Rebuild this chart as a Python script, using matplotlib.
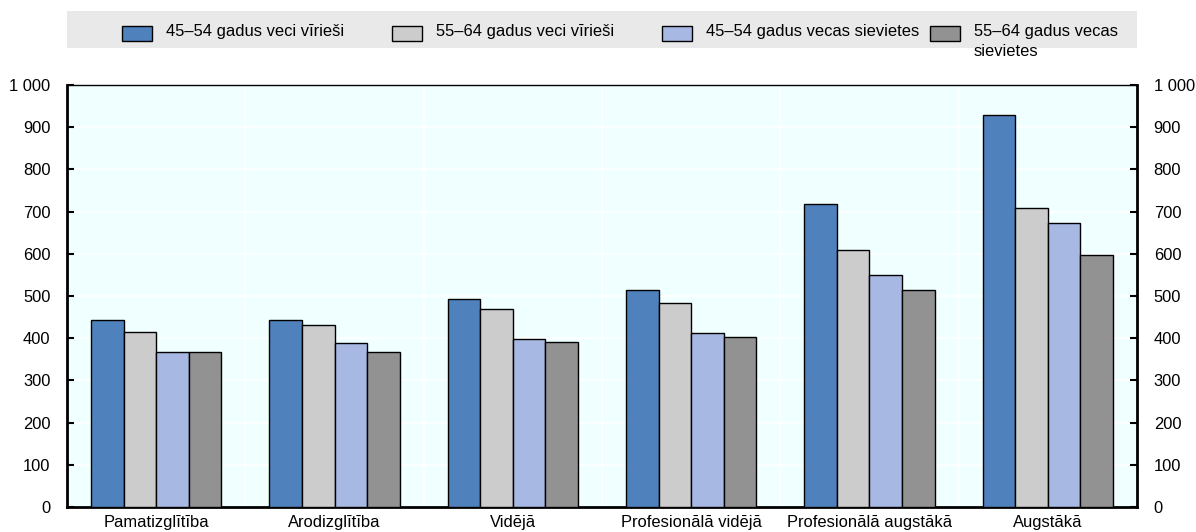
import matplotlib
matplotlib.use("Agg")
import matplotlib.pyplot as plt
from matplotlib.patches import Rectangle
from matplotlib.ticker import FuncFormatter, MultipleLocator, FixedLocator
import numpy as np

plt.rcParams['font.family'] = ['Liberation Sans', 'DejaVu Sans']

categories = ["Pamatizglītība", "Arodizglītība", "Vidējā", "Profesionālā vidējā",
              "Profesionālā augstākā", "Augstākā"]
series_names = ["45–54 gadus veci vīrieši", "55–64 gadus veci vīrieši",
                "45–54 gadus vecas sievietes", "55–64 gadus vecas\nsievietes"]
men_45_54 = [443, 444, 492, 514, 717, 930]
men_55_64 = [414, 432, 469, 484, 609, 708]
women_45_54 = [368, 389, 399, 413, 549, 674]
women_55_64 = [368, 368, 390, 403, 514, 598]
series_values = [men_45_54, men_55_64, women_45_54, women_55_64]
colors = ["#4F81BD", "#CCCCCC", "#A7B8E3", "#929292"]

FS = 11.9
W, H = 1196, 532
fig = plt.figure(figsize=(W / 100, H / 100), dpi=100)
ax = fig.add_axes([67 / W, (H - 507) / H, 1070 / W, 422 / H])
ax.set_facecolor("#F0FFFF")

x = np.arange(len(categories))
bw = 0.1825
for j, (vals, c) in enumerate(zip(series_values, colors)):
    ax.bar(x + (j - 1.5) * bw, vals, width=bw, color=c, edgecolor="black",
           linewidth=1.0, zorder=3, label=series_names[j])

ax.set_xlim(-0.5, len(categories) - 0.5)
ax.set_ylim(0, 1000)
ax.yaxis.set_major_locator(MultipleLocator(100))
fmt = FuncFormatter(lambda v, p: f"{int(v):,}".replace(",", " "))
ax.yaxis.set_major_formatter(fmt)
ax.set_xticks(x)
ax.set_xticklabels(categories, fontsize=FS)
ax.xaxis.set_minor_locator(FixedLocator(np.arange(0.5, len(categories) - 0.5, 1)))
ax.tick_params(axis="x", which="both", length=0, pad=6)
ax.tick_params(axis="y", which="major", direction="in", length=5, width=1.5,
               left=True, right=True, labelleft=True, labelright=True,
               labelsize=FS, pad=12)
ax.grid(True, axis="y", which="major", color="white", linewidth=1.2, zorder=0)
ax.grid(True, axis="x", which="minor", color="white", linewidth=1.2, zorder=0)
ax.set_axisbelow(True)

for s in ["left", "right", "bottom"]:
    ax.spines[s].set_linewidth(2)
    ax.spines[s].set_color("black")
ax.spines["top"].set_linewidth(1)
ax.spines["top"].set_color("black")

# Legend drawn manually in figure pixel coordinates
def px(xp, yp):
    return xp / W, 1 - yp / H

bx0, by0 = px(67, 48)
fig.patches.append(Rectangle((bx0, by0), 1070 / W, 37 / H, transform=fig.transFigure,
                             facecolor="#E9E9E9", edgecolor="none", zorder=0))
handle_x = [122, 392, 662, 930]
for hx, name, c in zip(handle_x, series_names, colors):
    rx, ry = px(hx, 41)
    fig.patches.append(Rectangle((rx, ry), 30 / W, 15 / H, transform=fig.transFigure,
                                 facecolor=c, edgecolor="black", linewidth=1.0, zorder=2))
    tx, ty = px(hx + 44, 24)
    fig.text(tx, ty, name, fontsize=FS, ha="left", va="top", linespacing=1.45)

fig.savefig("out.png", dpi=100)
